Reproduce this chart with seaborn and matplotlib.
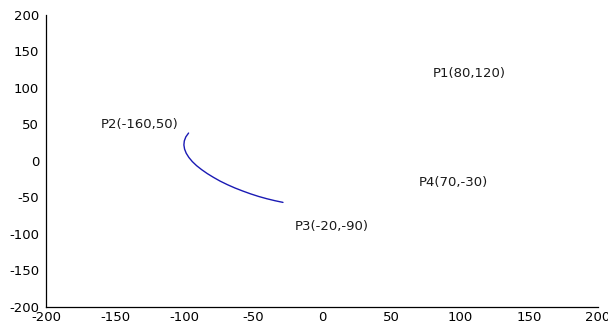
import matplotlib
matplotlib.use("Agg")
import matplotlib.pyplot as plt
import seaborn as sns
import pandas as pd

# Control point labels
point_names = ["P1", "P2", "P3", "P4"]
point_x = [80, -160, -20, 70]
point_y = [120, 50, -90, -30]

# Curve samples
curve_x = [-96.7, -98.7, -99.8, -100.1, -99.6, -98.4, -96.5, -94.0, -90.9, -87.2,
           -83.1, -78.6, -73.8, -68.6, -63.2, -57.5, -51.8, -45.9, -40.0, -34.1, -28.3]
curve_y = [38.3, 33.0, 27.5, 22.0, 16.3, 10.6, 4.9, -0.8, -6.4, -11.9,
           -17.3, -22.5, -27.6, -32.4, -36.9, -41.1, -45.0, -48.6, -51.7, -54.4, -56.7]

x_ticks = [-200, -150, -100, -50, 0, 50, 100, 150, 200]
y_ticks = [-200, -150, -100, -50, 0, 50, 100, 150, 200]

sns.set_style("white")
plt.rcParams["font.family"] = ["DejaVu Sans"]
plt.rcParams["axes.unicode_minus"] = False

fig = plt.figure(figsize=(6.08, 3.24), dpi=100)
ax = fig.add_axes([0.0757, 0.0525, 0.9079, 0.9012])

df = pd.DataFrame({"x": curve_x, "y": curve_y})
sns.lineplot(data=df, x="x", y="y", sort=False, ax=ax, color="#1a1ab4", linewidth=1.0)

for n, px, py in zip(point_names, point_x, point_y):
    ax.text(px, py, f"{n}({px},{py})", ha="left", va="center", fontsize=9.5, color="#1a1a1a")

ax.set_xlim(-200, 200)
ax.set_ylim(-200, 200)
ax.set_xticks(x_ticks)
ax.set_yticks(y_ticks)
ax.set_xlabel("")
ax.set_ylabel("")
ax.tick_params(direction="in", length=4, width=0.8, labelsize=9.5, colors="black")
ax.tick_params(axis="x", pad=3)
ax.tick_params(axis="y", pad=5)
for s in ["top", "right"]:
    ax.spines[s].set_visible(False)
for s in ["left", "bottom"]:
    ax.spines[s].set_color("black")
    ax.spines[s].set_linewidth(0.9)

fig.savefig("out.png", dpi=100)
